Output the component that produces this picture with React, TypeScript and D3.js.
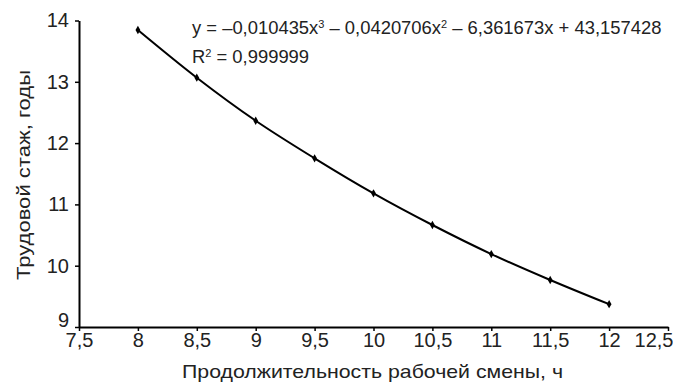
import { useEffect, useRef } from 'react';
import * as d3 from 'd3';

// Shift length (h) vs. work experience (years)
const shiftHours = [8, 8.5, 9, 9.5, 10, 10.5, 11, 11.5, 12];
const experience = [13.845, 13.067, 12.365, 11.752, 11.18, 10.664, 10.19, 9.767, 9.372];
const xTicks = [7.5, 8, 8.5, 9, 9.5, 10, 10.5, 11, 11.5, 12, 12.5];
const yTicks = [9, 10, 11, 12, 13, 14];

const W = 673;
const H = 383;
const FONT = 'Arial, "Liberation Sans", sans-serif';

export default function App() {
  const svgRef = useRef<SVGSVGElement>(null);

  useEffect(() => {
    if (!svgRef.current) return;
    const svg = d3.select(svgRef.current);
    svg.selectAll('*').remove();

    const x = d3.scaleLinear().domain([7.5, 12.5]).range([79, 668]);
    const y = d3.scaleLinear().domain([9, 14]).range([327, 20.5]);

    const fmt = (v: number) => String(v).replace('.', ',');

    // X axis
    const xAxis = svg.append('g')
      .attr('transform', `translate(0,${y(9)})`)
      .call(d3.axisBottom(x).tickValues(xTicks).tickFormat(d => fmt(d as number)).tickSize(4).tickPadding(2).tickSizeOuter(0));
    xAxis.select('.domain').attr('stroke', '#000').attr('stroke-width', 2);
    xAxis.selectAll('.tick line').attr('stroke', '#000').attr('stroke-width', 1.5);
    xAxis.selectAll('.tick text')
      .attr('fill', '#222')
      .style('font-family', FONT)
      .style('font-size', '20px');
    // last label pushed inside the frame, as in the original
    xAxis.selectAll<SVGTextElement, number>('.tick text')
      .filter(d => d === 12.5)
      .attr('text-anchor', 'end')
      .attr('x', W - x(12.5));

    // Y axis
    const yAxis = svg.append('g')
      .attr('transform', `translate(${x(7.5)},0)`)
      .call(d3.axisLeft(y).tickValues(yTicks).tickFormat(d => fmt(d as number)).tickSize(4).tickPadding(6).tickSizeOuter(0));
    yAxis.select('.domain').attr('stroke', '#000').attr('stroke-width', 2);
    yAxis.selectAll('.tick line').attr('stroke', '#000').attr('stroke-width', 1.5);
    yAxis.selectAll('.tick text')
      .attr('fill', '#222')
      .style('font-family', FONT)
      .style('font-size', '20px');
    // bottom label sits above the x labels
    yAxis.selectAll<SVGTextElement, number>('.tick text')
      .filter(d => d === 9)
      .attr('y', -7);

    // Curve
    const pts = shiftHours.map((h, i) => [h, experience[i]] as [number, number]);
    const line = d3.line<[number, number]>()
      .x(d => x(d[0]))
      .y(d => y(d[1]))
      .curve(d3.curveCatmullRom.alpha(0.5));

    svg.append('path')
      .datum(pts)
      .attr('d', line)
      .attr('fill', 'none')
      .attr('stroke', '#000')
      .attr('stroke-width', 2);

    // Diamond markers
    svg.selectAll('.mark')
      .data(pts)
      .enter()
      .append('path')
      .attr('class', 'mark')
      .attr('transform', d => `translate(${x(d[0])},${y(d[1])})`)
      .attr('d', d3.symbol().type(d3.symbolDiamond).size(20)())
      .attr('fill', '#000');

    // Trendline equation
    const eq = svg.append('text')
      .attr('x', 192)
      .attr('y', 34)
      .attr('fill', '#222')
      .style('font-family', FONT)
      .style('font-size', '18.4px');
    eq.append('tspan').text('y = –0,010435x');
    eq.append('tspan').attr('dy', -6).style('font-size', '11px').text('3');
    eq.append('tspan').attr('dy', 6).text(' – 0,0420706x');
    eq.append('tspan').attr('dy', -6).style('font-size', '11px').text('2');
    eq.append('tspan').attr('dy', 6).text(' – 6,361673x + 43,157428');

    const r2 = svg.append('text')
      .attr('x', 192)
      .attr('y', 63)
      .attr('fill', '#222')
      .style('font-family', FONT)
      .style('font-size', '18.4px');
    r2.append('tspan').text('R');
    r2.append('tspan').attr('dy', -6).style('font-size', '11px').text('2');
    r2.append('tspan').attr('dy', 6).text(' = 0,999999');

    // Axis titles
    svg.append('text')
      .attr('x', 182)
      .attr('y', 378)
      .attr('textLength', 381)
      .attr('lengthAdjust', 'spacingAndGlyphs')
      .attr('fill', '#222')
      .style('font-family', FONT)
      .style('font-size', '19px')
      .text('Продолжительность рабочей смены, ч');

    svg.append('text')
      .attr('transform', 'translate(30,280) rotate(-90)')
      .attr('textLength', 210)
      .attr('lengthAdjust', 'spacingAndGlyphs')
      .attr('fill', '#222')
      .style('font-family', FONT)
      .style('font-size', '19px')
      .text('Трудовой стаж, годы');
  }, []);

  return (
    <svg
      ref={svgRef}
      width={W}
      height={H}
      style={{ position: 'absolute', left: 0, top: 0, background: '#fff' }}
    />
  );
}
